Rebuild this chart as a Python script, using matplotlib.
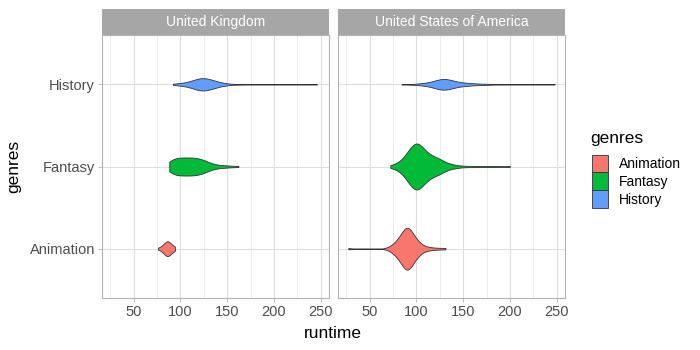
import numpy as np
import matplotlib
matplotlib.use("Agg")
import matplotlib.pyplot as plt
from matplotlib.patches import Patch

plt.rcParams['font.family'] = ['Liberation Sans', 'DejaVu Sans']

genres = ['Animation', 'Fantasy', 'History']
countries = ['United Kingdom', 'United States of America']
colors = {'Animation': '#F8766D', 'Fantasy': '#00BA38', 'History': '#619CFF'}

# runtime (minutes) -> number of films, per country / genre
uk_animation_rt = [76, 80, 83, 86, 89, 92, 94]
uk_animation_n = [1, 2, 4, 6, 4, 2, 1]
uk_fantasy_rt = [88, 92, 96, 100, 104, 108, 112, 116, 120, 124, 128, 132,
                 137, 142, 147, 152, 157, 162]
uk_fantasy_n = [7, 9, 10, 10, 10, 10, 10, 10, 9, 8, 6, 4, 3, 2, 2, 1, 1, 1]
uk_history_rt = [92, 98, 104, 110, 116, 121, 126, 131, 136, 142, 148, 155,
                 165, 180, 200, 220, 246]
uk_history_n = [1, 2, 3, 5, 8, 10, 10, 8, 6, 4, 2, 1, 1, 1, 1, 1, 1]

us_animation_rt = [27, 68, 72, 75, 78, 81, 84, 87, 90, 93, 96, 99, 102, 105,
                   108, 112, 116, 120, 125, 131]
us_animation_n = [1, 1, 2, 3, 5, 7, 10, 13, 15, 13, 10, 7, 5, 3, 2, 2, 1, 1,
                  1, 1]
us_fantasy_rt = [72, 76, 80, 84, 88, 92, 96, 100, 104, 108, 112, 116, 120,
                 124, 128, 132, 136, 140, 145, 150, 158, 166, 175, 185, 200]
us_fantasy_n = [1, 2, 3, 5, 9, 14, 19, 22, 19, 14, 11, 9, 8, 7, 5, 3, 2, 2,
                1, 1, 1, 1, 1, 1, 1]
us_history_rt = [84, 95, 102, 108, 114, 120, 125, 130, 135, 140, 146, 152,
                 158, 165, 172, 180, 190, 200, 215, 248]
us_history_n = [1, 1, 2, 3, 5, 8, 11, 12, 10, 7, 5, 4, 3, 2, 2, 1, 1, 1, 1, 1]

runtimes = {
    'United Kingdom': [np.repeat(uk_animation_rt, uk_animation_n),
                       np.repeat(uk_fantasy_rt, uk_fantasy_n),
                       np.repeat(uk_history_rt, uk_history_n)],
    'United States of America': [np.repeat(us_animation_rt, us_animation_n),
                                 np.repeat(us_fantasy_rt, us_fantasy_n),
                                 np.repeat(us_history_rt, us_history_n)],
}
# full violin thickness (in category units)
widths = {
    'United Kingdom': [0.18, 0.22, 0.15],
    'United States of America': [0.51, 0.56, 0.13],
}


def nrd0(kde):
    # R's default bandwidth rule, as a factor of the sample sd
    x = np.asarray(kde.dataset).ravel()
    sd = x.std(ddof=1)
    iqr = np.subtract(*np.percentile(x, [75, 25]))
    return 0.9 * min(sd, iqr / 1.34) * len(x) ** -0.2 / sd


all_vals = np.concatenate([np.concatenate(v) for v in runtimes.values()])
lo, hi = all_vals.min(), all_vals.max()
pad = 0.05 * (hi - lo)

fig = plt.figure(figsize=(7, 3.5), dpi=100)
W, H = 700, 350
panels = [(102, 227), (338, 227)]
top, bottom = 35, 298
grid_c = '#DEDEDE'
frame_c = '#B3B3B3'
text_c = '#4D4D4D'

for i, (country, (x0, w)) in enumerate(zip(countries, panels)):
    ax = fig.add_axes([x0 / W, (H - bottom) / H, w / W, (bottom - top) / H])
    parts = ax.violinplot(runtimes[country], positions=[1, 2, 3],
                          widths=widths[country], orientation='horizontal',
                          showextrema=False, bw_method=nrd0, points=400)
    for body, g in zip(parts['bodies'], genres):
        body.set_facecolor(colors[g])
        body.set_edgecolor('#333333')
        body.set_linewidth(0.6)
        body.set_alpha(1)
        body.set_zorder(3)

    ax.set_xlim(lo - pad, hi + pad)
    ax.set_ylim(0.4, 3.6)
    ax.set_xticks([50, 100, 150, 200, 250])
    ax.set_xticks([25, 75, 125, 175, 225], minor=True)
    ax.set_yticks([1, 2, 3])
    ax.grid(True, which='major', color=grid_c, lw=0.8, zorder=0)
    ax.grid(True, which='minor', axis='x', color=grid_c, lw=0.4, zorder=0)
    ax.set_axisbelow(True)
    for s in ax.spines.values():
        s.set_color(frame_c)
        s.set_linewidth(0.8)
    ax.tick_params(axis='both', which='major', colors=frame_c, length=3,
                   width=0.6, labelcolor=text_c, labelsize=10.5, pad=2)
    ax.tick_params(axis='x', which='minor', length=0)
    if i == 0:
        ax.set_yticklabels(genres)
        ax.set_ylabel('genres', fontsize=12.5, color='black', labelpad=6)
    else:
        ax.set_yticklabels([])
        ax.tick_params(axis='y', length=0)

    # facet strip
    sax = fig.add_axes([x0 / W, (H - top) / H, w / W, 26 / H])
    sax.set_facecolor('#A6A6A6')
    sax.set_xticks([])
    sax.set_yticks([])
    for s in sax.spines.values():
        s.set_visible(False)
    sax.text(0.5, 0.5, country, color='white', fontsize=10,
             ha='center', va='center', transform=sax.transAxes)

fig.text(333 / W, 1 - 333 / H, 'runtime', fontsize=12.5, ha='center',
         va='center')

# legend: title placed by hand, keys below it
fig.text(590 / W, 1 - 139 / H, 'genres', fontsize=12.5, ha='left',
         va='center')
handles = [Patch(facecolor=colors[g], edgecolor='#333333', lw=0.6)
           for g in genres]
fig.legend(handles, genres, loc='upper left',
           bbox_to_anchor=(586 / W, 1 - 149 / H), borderaxespad=0,
           frameon=False, fontsize=10, handlelength=1.15, handleheight=1.6,
           handletextpad=0.8, labelspacing=0.0)

fig.savefig('out.png', dpi=100)
